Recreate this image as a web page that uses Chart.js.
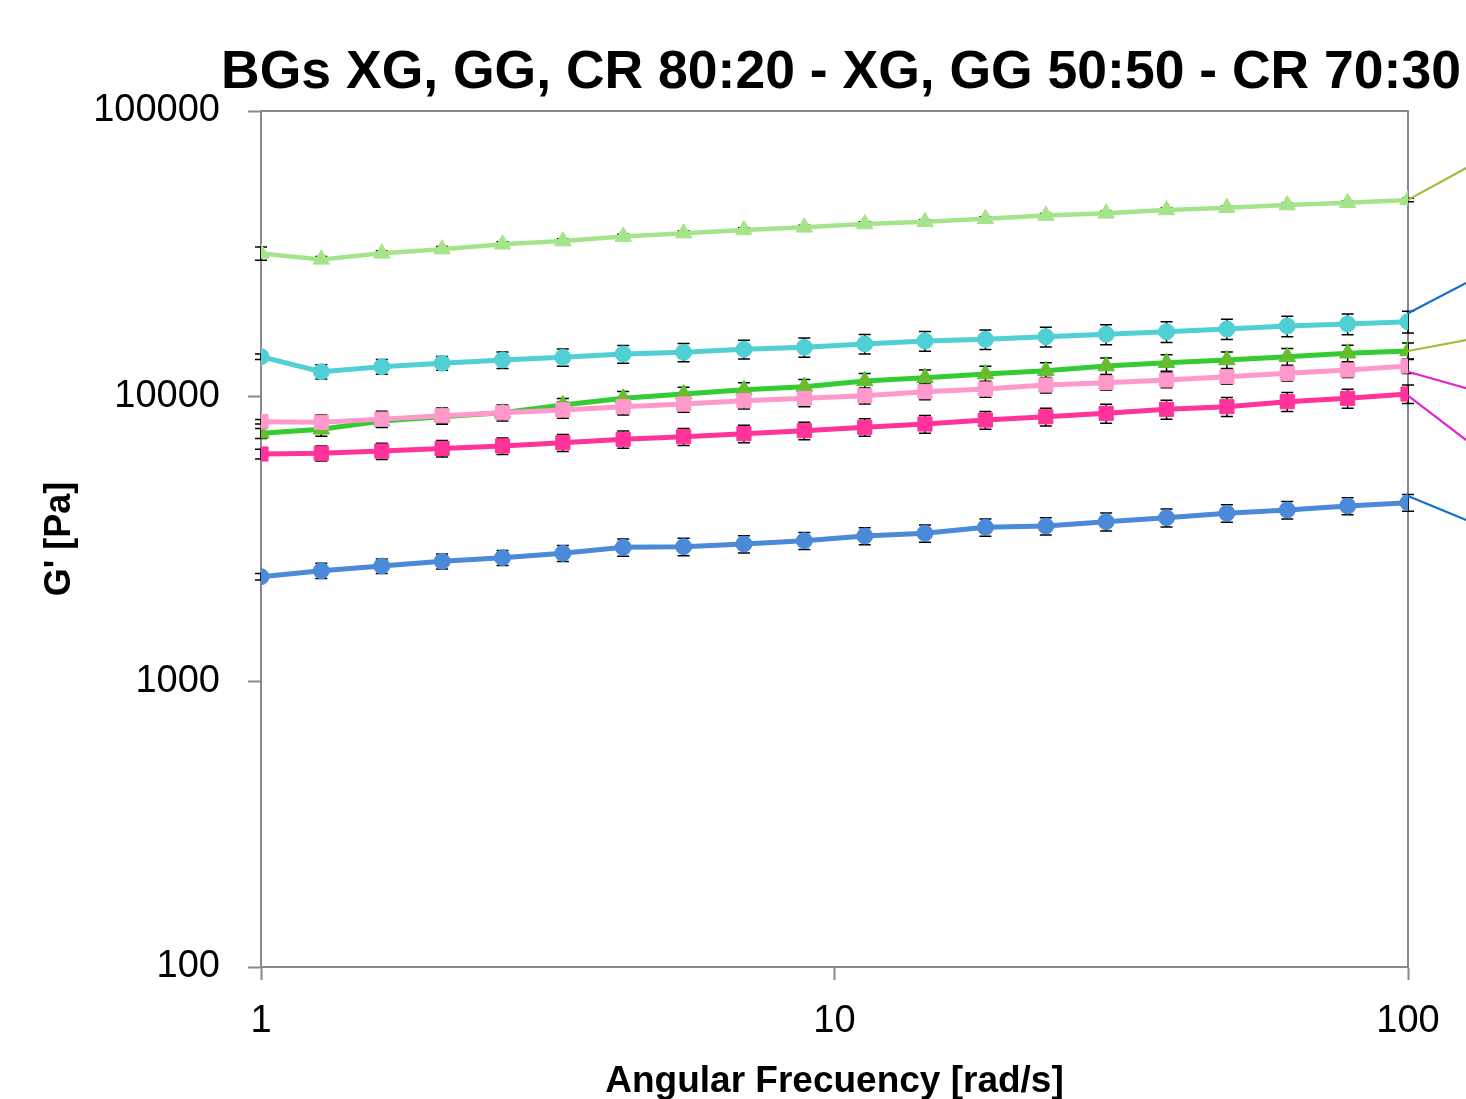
<!DOCTYPE html>
<html>
<head>
<meta charset="utf-8">
<script src="https://cdn.jsdelivr.net/npm/chart.js@4/dist/chart.umd.min.js"></script>
<style>
  html, body { margin: 0; padding: 0; background: #ffffff; }
  #wrap { width: 1466px; height: 1099px; position: relative; }
</style>
</head>
<body>
<div id="wrap"><canvas id="c" width="1466" height="1099"></canvas></div>
<script>
// ---- Data ----
const chartTitle = "BGs XG, GG, CR 80:20 - XG, GG 50:50 - CR 70:30";
const xAxisTitle = "Angular Frecuency [rad/s]";
const yAxisTitle = "G' [Pa]";

const frequencies = [1, 1.274, 1.624, 2.069, 2.637, 3.36, 4.281, 5.456, 6.952, 8.859,
                     11.29, 14.38, 18.33, 23.36, 29.76, 37.93, 48.33, 61.58, 78.48, 100];

const xTickValues = [1, 10, 100];
const yTickValues = [100, 1000, 10000, 100000];

const lightGreenValues = [31700, 30200, 31700, 32800, 34100, 35000, 36300, 37300, 38300, 39100,
                          40200, 40900, 41900, 43000, 43800, 45000, 45800, 46800, 47700, 48800];
const lightGreenErrors = [1700, 700, 700, 700, 700, 700, 700, 700, 700, 700,
                          700, 700, 700, 700, 700, 700, 700, 700, 700, 700];

const cyanValues = [13770, 12200, 12700, 13060, 13410, 13700, 14070, 14270, 14620, 14850,
                    15260, 15630, 15840, 16180, 16500, 16850, 17220, 17640, 17930, 18260];
const cyanErrors = [300, 700, 750, 720, 900, 950, 1000, 1050, 1100, 1150,
                    1200, 1250, 1250, 1300, 1330, 1400, 1400, 1450, 1500, 1600];

const greenValues = [7420, 7665, 8190, 8480, 8760, 9330, 9840, 10190, 10540, 10810,
                     11320, 11620, 11970, 12300, 12770, 13120, 13410, 13770, 14160, 14420];
const greenErrors = [300, 420, 400, 420, 450, 500, 550, 580, 610, 650,
                     700, 750, 780, 800, 850, 880, 900, 930, 950, 970];

const pinkValues = [8150, 8110, 8320, 8550, 8760, 8960, 9200, 9400, 9650, 9840,
                    10050, 10380, 10610, 10960, 11160, 11410, 11720, 12040, 12370, 12770];
const pinkErrors = [150, 500, 550, 560, 560, 580, 600, 610, 620, 640,
                    650, 660, 680, 680, 650, 700, 700, 720, 730, 740];

const magentaValues = [6280, 6315, 6430, 6565, 6700, 6880, 7070, 7220, 7400, 7580,
                       7790, 8000, 8260, 8480, 8720, 9005, 9200, 9580, 9840, 10190];
const magentaErrors = [250, 380, 420, 440, 450, 470, 490, 500, 520, 530,
                       550, 570, 590, 610, 670, 690, 700, 730, 750, 760];

const blueValues = [2333, 2448, 2543, 2641, 2719, 2818, 2957, 2972, 3037, 3119,
                    3240, 3311, 3475, 3511, 3636, 3755, 3892, 3996, 4127, 4239];
const blueErrors = [60, 150, 150, 160, 165, 180, 205, 210, 210, 215,
                    220, 230, 240, 245, 265, 270, 275, 280, 285, 285];

// leader lines leaving the plot on the right (start value at x=100, end value off the edge)
const leaderX = [100, 126.3];
const leaderOliveTop = [48800, 63100];
const leaderBlueTop = [19540, 24960];
const leaderOliveMid = [14420, 15750];
const leaderMagentaTop = [12200, 10670];
const leaderMagentaLow = [10050, 7030];
const leaderBlueLow = [4477, 3686];

// ---- Build ----
const toPoints = (xs, ys) => xs.map((x, i) => ({ x: x, y: ys[i] }));

function series(values, errors, color, style, radius, order, lineWidth, markerFill, markerBorder) {
  return {
    data: toPoints(frequencies, values),
    errors: errors,
    borderColor: color,
    backgroundColor: color,
    borderWidth: lineWidth,
    pointStyle: style,
    pointRadius: radius,
    pointHoverRadius: radius,
    pointBackgroundColor: markerFill || color,
    pointBorderColor: markerBorder || color,
    pointBorderWidth: 1,
    tension: 0,
    order: order
  };
}
function leader(values, color) {
  return {
    data: toPoints(leaderX, values),
    borderColor: color,
    borderWidth: 2.2,
    pointRadius: 0,
    pointHoverRadius: 0,
    tension: 0,
    clip: false,
    order: 10
  };
}

const datasets = [
  series(lightGreenValues, lightGreenErrors, '#A5E48A', 'triangle', 9.5, 6, 4.5),
  series(cyanValues, cyanErrors, '#50CFD5', 'circle', 8, 5, 5),
  series(greenValues, greenErrors, '#33CC33', 'triangle', 9.5, 4, 5, '#6CBB2C', '#4CC430'),
  series(pinkValues, pinkErrors, '#FF99CC', 'rect', 10, 3, 5),
  series(magentaValues, magentaErrors, '#FF3399', 'rect', 10, 2, 5),
  series(blueValues, blueErrors, '#4A8AD9', 'circle', 8, 1, 5),
  leader(leaderOliveTop, '#9DBF3E'),
  leader(leaderBlueTop, '#1170CC'),
  leader(leaderOliveMid, '#9DBF3E'),
  leader(leaderMagentaTop, '#E324D2'),
  leader(leaderMagentaLow, '#E324D2'),
  leader(leaderBlueLow, '#1170CC')
];

const AXIS_COLOR = '#898989';
const FONT = '"Liberation Sans", Arial, sans-serif';

const framePlugin = {
  id: 'frame',
  beforeDatasetsDraw(chart) {
    const { ctx, chartArea: a } = chart;
    ctx.save();
    ctx.strokeStyle = AXIS_COLOR;
    ctx.lineWidth = 2;
    ctx.beginPath();
    ctx.moveTo(a.left, a.top);
    ctx.lineTo(a.right, a.top);
    ctx.lineTo(a.right, a.bottom);
    ctx.stroke();
    ctx.restore();
  }
};

const errorBarPlugin = {
  id: 'errorBars',
  beforeDatasetsDraw(chart) {
    const { ctx, scales } = chart;
    const xs = scales.x, ys = scales.y;
    ctx.save();
    ctx.strokeStyle = '#000000';
    ctx.lineWidth = 1.5;
    chart.data.datasets.forEach(ds => {
      if (!ds.errors) return;
      ds.data.forEach((p, j) => {
        const e = ds.errors[j];
        if (!e) return;
        const px = xs.getPixelForValue(p.x);
        const yt = ys.getPixelForValue(p.y + e);
        const yb = ys.getPixelForValue(p.y - e);
        const cap = 6;
        ctx.beginPath();
        ctx.moveTo(px, yt); ctx.lineTo(px, yb);
        ctx.moveTo(px - cap, yt); ctx.lineTo(px + cap, yt);
        ctx.moveTo(px - cap, yb); ctx.lineTo(px + cap, yb);
        ctx.stroke();
      });
    });
    ctx.restore();
  }
};

const titlePlugin = {
  id: 'titleText',
  afterDraw(chart) {
    const { ctx } = chart;
    ctx.save();
    ctx.fillStyle = '#000000';
    ctx.font = 'bold 53.5px ' + FONT;
    ctx.textAlign = 'center';
    ctx.textBaseline = 'alphabetic';
    ctx.fillText(chartTitle, 841, 88);
    ctx.restore();
  }
};

new Chart(document.getElementById('c'), {
  type: 'line',
  data: { datasets: datasets },
  options: {
    responsive: false,
    animation: false,
    devicePixelRatio: 1,
    layout: { padding: { top: 111, right: 58, left: 0, bottom: 0 } },
    plugins: {
      legend: { display: false },
      tooltip: { enabled: false },
      title: { display: false }
    },
    scales: {
      x: {
        type: 'logarithmic',
        min: 1,
        max: 100,
        afterBuildTicks: s => { s.ticks = xTickValues.map(v => ({ value: v })); },
        afterFit: s => { s.height = 132; },
        ticks: {
          autoSkip: false,
          maxRotation: 0,
          padding: 19,
          color: '#000000',
          font: { family: FONT, size: 38 },
          callback: v => String(v)
        },
        grid: {
          drawOnChartArea: false,
          drawTicks: true,
          tickLength: 13,
          tickColor: AXIS_COLOR,
          tickWidth: 2
        },
        border: { display: true, color: AXIS_COLOR, width: 2 },
        title: {
          display: true,
          text: xAxisTitle,
          color: '#000000',
          font: { family: FONT, size: 37, weight: 'bold' },
          padding: { top: 0, bottom: -5 }
        }
      },
      y: {
        type: 'logarithmic',
        min: 100,
        max: 100000,
        afterBuildTicks: s => { s.ticks = yTickValues.map(v => ({ value: v })); },
        afterFit: s => { s.width = 261; },
        ticks: {
          autoSkip: false,
          padding: 28,
          color: '#000000',
          font: { family: FONT, size: 38 },
          callback: v => String(v)
        },
        grid: {
          drawOnChartArea: false,
          drawTicks: true,
          tickLength: 13,
          tickColor: AXIS_COLOR,
          tickWidth: 2
        },
        border: { display: true, color: AXIS_COLOR, width: 2 },
        title: {
          display: true,
          text: yAxisTitle,
          color: '#000000',
          font: { family: FONT, size: 36, weight: 'bold' },
          padding: { top: 38, bottom: 0 }
        }
      }
    }
  },
  plugins: [framePlugin, errorBarPlugin, titlePlugin]
});
</script>
</body>
</html>
